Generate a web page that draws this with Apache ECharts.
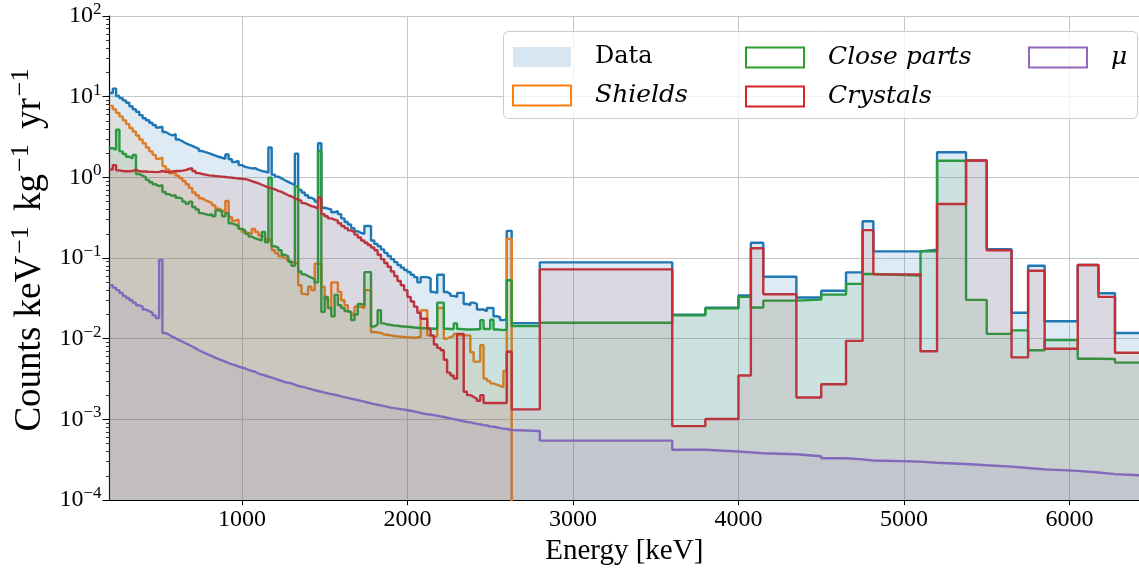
<!DOCTYPE html>
<html>
<head>
<meta charset="utf-8">
<script src="https://cdn.jsdelivr.net/npm/echarts@6/dist/echarts.min.js"></script>
<style>
html,body{margin:0;padding:0;background:#fff;}
#c{width:1139px;height:571px;}
</style>
</head>
<body>
<div id="c"></div>
<script>
// ---------- data ----------
const fineStart = 200;     // keV, first bin edge
const fineWidth = 20;      // keV, fine bin width
const fineCount = 120;     // fine bins 200..2600
const coarseEdges = [2600, 2630, 2800, 3600, 3800, 4000, 4075, 4150, 4350, 4500, 4650, 4750, 4815,
                     5100, 5200, 5375, 5500, 5650, 5750, 5850, 6050, 6175, 6275, 6500];

const dataFine = [
 11.1, 12.6, 10.2, 9.6, 9.0, 8.4, 7.6, 7.0, 6.5, 5.9,
 5.4, 5.1, 4.75, 4.45, 4.15, 4.25, 3.65, 3.45, 3.3, 3.45,
 2.95, 2.8, 2.65, 2.55, 2.45, 2.35, 2.25, 2.12, 2.05, 2.0,
 1.93, 1.86, 1.8, 1.75, 1.7, 1.92, 1.68, 1.55, 1.6, 1.42,
 1.35, 1.32, 1.29, 1.3, 1.24, 1.2, 1.18, 1.15, 2.35, 1.08,
 1.02, 0.97, 0.92, 0.88, 0.84, 0.8, 1.96, 0.7, 0.65, 0.6,
 0.56, 0.53, 0.5, 2.65, 0.42, 0.41, 0.4, 0.37, 0.38, 0.35,
 0.31, 0.28, 0.26, 0.235, 0.215, 0.205, 0.2, 0.25, 0.25, 0.165,
 0.15, 0.14, 0.128, 0.116, 0.106, 0.097, 0.089, 0.082, 0.076, 0.071,
 0.067, 0.062, 0.058, 0.05, 0.058, 0.058, 0.056, 0.038, 0.037, 0.062,
 0.062, 0.038, 0.036, 0.034, 0.033, 0.037, 0.037, 0.027, 0.026, 0.028,
 0.027, 0.023, 0.023, 0.022, 0.024, 0.024, 0.019, 0.0185, 0.017, 0.0175
];
const dataCoarse = [0.217, 0.0156, 0.0885, 0.0199, 0.0242, 0.0343, 0.155, 0.0587, 0.0324, 0.0394, 0.0665, 0.286,
                    0.121, 0.127, 2.05, 1.62, 0.129, 0.021, 0.0803, 0.0165, 0.082, 0.0366, 0.0118];

const shieldsFine = [
 7.7, 7.0, 6.3, 5.7, 5.1, 4.6, 4.1, 3.7, 3.3, 2.95,
 2.65, 2.35, 2.1, 1.9, 1.7, 1.75, 1.38, 1.25, 1.12, 1.15,
 1.05, 0.98, 0.9, 0.82, 0.74, 0.65, 0.6, 0.55, 0.52, 0.5,
 0.48, 0.45, 0.41, 0.39, 0.37, 0.51, 0.32, 0.29, 0.3, 0.23,
 0.21, 0.205, 0.2, 0.23, 0.21, 0.19, 0.185, 0.17, 0.17, 0.125,
 0.115, 0.105, 0.1, 0.095, 0.09, 0.088, 0.085, 0.046, 0.036, 0.035,
 0.044, 0.04, 0.085, 0.085, 0.044, 0.031, 0.024, 0.05, 0.05, 0.038,
 0.03, 0.026, 0.0215, 0.02, 0.025, 0.025, 0.024, 0.04, 0.04, 0.0121,
 0.012, 0.0118, 0.0113, 0.0112, 0.011, 0.0108, 0.0107, 0.0106, 0.0105, 0.0104,
 0.0104, 0.0103, 0.0104, 0.0105, 0.0225, 0.0225, 0.011, 0.0105, 0.0107, 0.024,
 0.024, 0.01, 0.0105, 0.0108, 0.0115, 0.011, 0.011, 0.011, 0.011, 0.0068,
 0.0052, 0.0052, 0.0083, 0.0032, 0.003, 0.0028, 0.0027, 0.0026, 0.0025, 0.004
];
const shieldsCoarse = [0.172];

const closeFine = [
 2.3, 2.2, 3.9, 2.1, 1.95, 1.8, 1.72, 1.9, 1.1, 1.05,
 1.0, 0.93, 0.87, 0.82, 0.78, 0.8, 0.66, 0.62, 0.59, 0.6,
 0.56, 0.54, 0.5, 0.47, 0.5, 0.43, 0.4, 0.36, 0.35, 0.34,
 0.35, 0.33, 0.39, 0.38, 0.33, 0.36, 0.27, 0.26, 0.25, 0.23,
 0.22, 0.2, 0.185, 0.175, 0.17, 0.165, 0.21, 0.157, 0.99, 0.14,
 0.135, 0.125, 0.11, 0.105, 0.09, 0.08, 0.77, 0.068, 0.063, 0.06,
 0.057, 0.055, 0.05, 2.12, 0.0215, 0.033, 0.024, 0.019, 0.035, 0.026,
 0.024, 0.022, 0.0215, 0.017, 0.02, 0.027, 0.026, 0.067, 0.067, 0.0142,
 0.015, 0.0225, 0.0155, 0.015, 0.0148, 0.0146, 0.0145, 0.0143, 0.0142, 0.0141,
 0.014, 0.0138, 0.0137, 0.0136, 0.0135, 0.0135, 0.0134, 0.0133, 0.0133, 0.028,
 0.028, 0.0133, 0.0132, 0.0132, 0.0155, 0.0132, 0.0131, 0.013, 0.013, 0.013,
 0.0131, 0.0131, 0.017, 0.0132, 0.0132, 0.0172, 0.013, 0.0129, 0.0128, 0.013
];
const closeCoarse = [0.053, 0.0144, 0.0158, 0.0195, 0.0238, 0.033, 0.0244, 0.0297, 0.0305, 0.0352, 0.0478, 0.0634,
                     0.0607, 0.121, 1.61, 0.0303, 0.0115, 0.0127, 0.0072, 0.0096, 0.00566, 0.0056, 0.00506];

const crystalsFine = [
 1.25, 1.42, 1.22, 1.2, 1.19, 1.19, 1.2, 1.25, 1.19, 1.18,
 1.18, 1.17, 1.17, 1.16, 1.17, 1.2, 1.17, 1.17, 1.18, 1.2,
 1.2, 1.21, 1.23, 1.27, 1.3, 1.2, 1.13, 1.1, 1.08, 1.06,
 1.05, 1.04, 1.03, 1.02, 1.01, 1.0, 0.99, 0.98, 0.97, 0.96,
 0.95, 0.93, 0.9, 0.87, 0.84, 0.81, 0.78, 0.75, 0.73, 0.71,
 0.68, 0.66, 0.63, 0.6, 0.58, 0.55, 0.53, 0.51, 0.48, 0.46,
 0.44, 0.43, 0.41, 0.56, 0.35, 0.33, 0.31, 0.3, 0.29, 0.27,
 0.25, 0.235, 0.22, 0.21, 0.195, 0.18, 0.165, 0.155, 0.145, 0.135,
 0.125, 0.11, 0.097, 0.087, 0.078, 0.068, 0.06, 0.052, 0.046, 0.04,
 0.033, 0.029, 0.025, 0.021, 0.0177, 0.0177, 0.0133, 0.011, 0.0085, 0.0077,
 0.0072, 0.0055, 0.0038, 0.0035, 0.0032, 0.0115, 0.0115, 0.0022, 0.002, 0.0019,
 0.0018, 0.0017, 0.002, 0.0016, 0.0016, 0.0016, 0.0016, 0.0016, 0.0016, 0.0016
];
const crystalsCoarse = [0.0069, 0.00133, 0.0724, 0.000826, 0.00101, 0.0035, 0.132, 0.0356, 0.00187, 0.00273, 0.0094, 0.222,
                        0.0628, 0.007, 0.468, 1.62, 0.125, 0.00587, 0.0696, 0.0075, 0.082, 0.033, 0.0067];

const muonFine = [
 0.046, 0.043, 0.040, 0.037, 0.034, 0.032, 0.030, 0.028, 0.026, 0.025,
 0.023, 0.022, 0.021, 0.0195, 0.018, 0.095, 0.0118, 0.0112, 0.0106, 0.0101,
 0.0096, 0.0092, 0.0088, 0.0084, 0.008, 0.0076, 0.0072, 0.0069, 0.0066, 0.0063,
 0.0061, 0.0058, 0.0056, 0.0054, 0.0052, 0.005, 0.0048, 0.0047, 0.0045, 0.0044,
 0.0043, 0.0041, 0.004, 0.0039, 0.0037, 0.0036, 0.0035, 0.0034, 0.0033, 0.0032,
 0.0031, 0.003, 0.0029, 0.00285, 0.0028, 0.0027, 0.0026, 0.00255, 0.0025, 0.00243,
 0.00237, 0.0023, 0.00225, 0.0022, 0.00215, 0.0021, 0.00206, 0.00202, 0.00198, 0.00193,
 0.00189, 0.00185, 0.00181, 0.00177, 0.00173, 0.0017, 0.00166, 0.00162, 0.00158, 0.00155,
 0.00152, 0.00149, 0.00146, 0.00143, 0.0014, 0.00138, 0.00136, 0.00134, 0.00132, 0.0013,
 0.00128, 0.00126, 0.00123, 0.0012, 0.00118, 0.00116, 0.00115, 0.00113, 0.00111, 0.00109,
 0.00107, 0.00105, 0.00103, 0.00101, 0.00099, 0.00097, 0.00095, 0.00093, 0.00092, 0.0009,
 0.00088, 0.00087, 0.00085, 0.00084, 0.00082, 0.00081, 0.0008, 0.00078, 0.00077, 0.00076
];
const muonCoarse = [0.00074, 0.00072, 0.000546, 0.00042, 0.0004, 0.00039, 0.00038, 0.00037, 0.00035, 0.00033, 0.00032, 0.00031,
                    0.0003, 0.00029, 0.00028, 0.00027, 0.00026, 0.00025, 0.00024, 0.00023, 0.00022, 0.00021, 0.0002];

const xTickValues = [1000, 2000, 3000, 4000, 5000, 6000];
const yMinorTicks = [];
[1e-4, 1e-3, 1e-2, 1e-1, 1, 10].forEach(function (d) { for (let k = 2; k <= 9; k++) yMinorTicks.push(+(d * k).toPrecision(3)); });

// ---------- build histogram step points ----------
const edges = [];
for (let i = 0; i < fineCount; i++) edges.push(fineStart + i * fineWidth);
coarseEdges.forEach(function (e) { edges.push(e); });

function stepPoints(vals, dropToZero) {
  const pts = [];
  for (let i = 0; i < vals.length; i++) pts.push([edges[i], vals[i]]);
  pts.push([edges[vals.length], vals[vals.length - 1]]);
  if (dropToZero) pts.push([edges[vals.length], 1e-9]);
  return pts;
}

const C = {blue: '#1f77b4', orange: '#ff7f0e', green: '#2ca02c', red: '#d62728', purple: '#9467bd'};
const FONT = 'Liberation Serif';
const LFONT = 'DejaVu Serif';
const LW = 2.4;

function hist(name, vals, color, fillOpacity, drop, z, showLine) {
  return {
    name: name, type: 'line', step: 'end', data: stepPoints(vals, drop),
    showSymbol: false, symbol: 'none', clip: true, silent: true, z: z,
    lineStyle: {color: color, width: showLine ? LW : 0, opacity: showLine ? 1 : 0},
    itemStyle: {color: color},
    areaStyle: fillOpacity > 0 ? {color: color, opacity: fillOpacity} : null
  };
}

const chart = echarts.init(document.getElementById('c'), null, {renderer: 'canvas'});

function legendBase(left, names) {
  return {
    left: left, top: 40, orient: 'vertical', itemWidth: 58, itemHeight: 20, itemGap: 14,
    selectedMode: false, z: 20,
    textStyle: {fontFamily: LFONT, fontSize: 24, color: '#000', padding: [0, 0, 0, 19]},
    data: names
  };
}
function outlined(name, color) {
  return {name: name, icon: 'rect', itemStyle: {color: 'rgba(255,255,255,0)', borderColor: color, borderWidth: 2},
          textStyle: {fontStyle: 'italic', fontSize: 25}};
}

const dataAll = dataFine.concat(dataCoarse);

const option = {
  animation: false,
  backgroundColor: '#fff',
  grid: {left: 108, right: 0, top: 16, bottom: 69, containLabel: false},
  graphic: [{
    type: 'rect', z: 15, left: 503, top: 31,
    shape: {width: 634, height: 87, r: 5},
    style: {fill: 'rgba(255,255,255,0.8)', stroke: '#cccccc', lineWidth: 1}
  }],
  legend: [
    legendBase(507, [{name: 'Data', icon: 'rect', itemStyle: {color: 'rgba(31,119,180,0.18)', borderWidth: 0}},
                     outlined('Shields', C.orange)]),
    legendBase(740, [outlined('Close parts', C.green), outlined('Crystals', C.red)]),
    legendBase(1023, [outlined('μ', C.purple)])
  ],
  xAxis: {
    type: 'value', min: 200, max: 6420,
    name: 'Energy [keV]', nameLocation: 'middle', nameGap: 36,
    nameTextStyle: {fontFamily: FONT, fontSize: 29, color: '#000'},
    axisLine: {show: true, lineStyle: {color: '#000', width: 1.2}},
    axisTick: {show: true, length: 5, customValues: xTickValues, lineStyle: {color: '#000'}},
    axisLabel: {customValues: xTickValues, fontFamily: FONT, fontSize: 24, color: '#000', margin: 8,
                formatter: function (v) { return String(v); }},
    splitLine: {show: true, lineStyle: {color: '#c6c6c6', width: 1}}
  },
  yAxis: [{
    type: 'log', logBase: 10, min: 1e-4, max: 100, splitNumber: 6,
    name: '{n|Counts keV}{s|−1}{n| kg}{s|−1}{n| yr}{s|−1}',
    nameLocation: 'middle', nameRotate: 90, nameGap: 53,
    nameTextStyle: {fontFamily: FONT, color: '#000', padding: [0, 0, 0, 22],
      rich: {n: {fontFamily: FONT, fontSize: 37, color: '#000', lineHeight: 44},
             s: {fontFamily: FONT, fontSize: 26, color: '#000', verticalAlign: 'top', lineHeight: 44,
                 padding: [0, 6, 0, 2]}}},
    axisLine: {show: true, lineStyle: {color: '#000', width: 1.2}},
    axisTick: {show: true, length: 7, lineStyle: {color: '#000'}},
    axisLabel: {
      margin: 8, fontFamily: FONT, color: '#000',
      formatter: function (v) {
        const e = Math.round(Math.log10(v));
        return '{b|10}{s|' + (e < 0 ? '−' : '') + Math.abs(e) + '}';
      },
      rich: {b: {fontFamily: FONT, fontSize: 24, color: '#000', lineHeight: 30},
             s: {fontFamily: FONT, fontSize: 17, color: '#000', verticalAlign: 'top', lineHeight: 30}}
    },
    splitLine: {show: true, lineStyle: {color: '#c6c6c6', width: 1}}
  }, {
    type: 'log', logBase: 10, min: 1e-4, max: 100, position: 'left', offset: 0,
    axisLine: {show: false},
    axisTick: {show: true, length: 3.5, customValues: yMinorTicks, lineStyle: {color: '#000', width: 0.8}},
    axisLabel: {show: false},
    splitLine: {show: false}
  }],
  series: [
    hist('Data', dataAll, C.blue, 0, false, 2, true),
    hist('Shields', shieldsFine.concat(shieldsCoarse), C.orange, 0.1, true, 3, true),
    hist('Close parts', closeFine.concat(closeCoarse), C.green, 0.1, false, 4, true),
    hist('Crystals', crystalsFine.concat(crystalsCoarse), C.red, 0.1, false, 5, true),
    hist('μ', muonFine.concat(muonCoarse), C.purple, 0.1, false, 6, true),
    hist('Data', dataAll, C.blue, 0.15, false, 7, false)
  ]
};
chart.setOption(option);
</script>
</body>
</html>
